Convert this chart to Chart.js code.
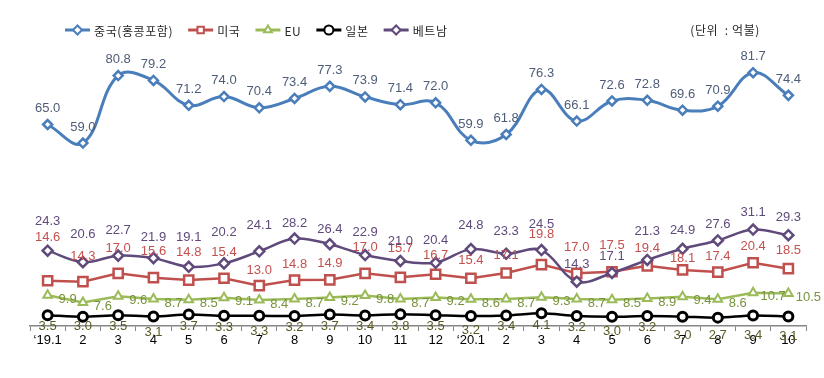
<!DOCTYPE html>
<html><head><meta charset="utf-8">
<script src="https://cdn.jsdelivr.net/npm/chart.js@4/dist/chart.umd.min.js"></script>
<style>html,body{margin:0;padding:0;background:#fff}#wrap{width:824px;height:378px;position:relative}</style>
</head><body><div id="wrap"><canvas id="c" width="824" height="378"></canvas></div>
<script>
// ---- data ----
const categories = ["\u201819.1","2","3","4","5","6","7","8","9","10","11","12","\u201820.1","2","3","4","5","6","7","8","9","10"];
const seriesNames = ["중국(홍콩포함)","미국","EU","일본","베트남"];
const china   = [65.0,59.0,80.8,79.2,71.2,74.0,70.4,73.4,77.3,73.9,71.4,72.0,59.9,61.8,76.3,66.1,72.6,72.8,69.6,70.9,81.7,74.4];
const usa     = [14.6,14.3,17.0,15.6,14.8,15.4,13.0,14.8,14.9,17.0,15.7,16.7,15.4,17.1,19.8,17.0,17.5,19.4,18.1,17.4,20.4,18.5];
const eu      = [9.9,7.6,9.6,8.7,8.5,9.1,8.4,8.7,9.2,9.8,8.7,9.2,8.6,8.7,9.3,8.7,8.5,8.9,9.4,8.6,10.7,10.5];
const japan   = [3.5,3.0,3.5,3.1,3.7,3.3,3.3,3.2,3.7,3.4,3.8,3.5,3.2,3.4,4.1,3.2,3.0,3.2,3.0,2.7,3.4,3.1];
const vietnam = [24.3,20.6,22.7,21.9,19.1,20.2,24.1,28.2,26.4,22.9,21.0,20.4,24.8,23.3,24.5,14.3,17.1,21.3,24.9,27.6,31.1,29.3];
const unitText = "(단위  : 억불)";

// ---- label placement (pixel offsets of value labels from their points) ----
const usLabelDy = [-43,-25,-25,-26,-28,-26,-15,-16,-16,-26,-29,-19,-18,-18,-30,-26,-26,-17,-11,-16,-16,-18];
const vnLabelDy = [-29,-28,-25,-21,-29,-31,-26,-15,-15,-23,-19,-22,-24,-22,-26,-17,-17,-29,-18,-16,-17,-18];
const jpLabelDy = [11,10,11,16,12,12,16,11,12,11,12,11,14,11,12,11,15,11,19,18,20,20];

const NUM_FONT = "13px 'Liberation Sans', Arial, sans-serif";
const KR_FONT = "12px 'Noto Sans CJK KR', 'Liberation Sans', sans-serif";

const styles = [
  {color:'#4A7EBB', labelColor:'#4E5D77', point:'rectRot', r:4.5, bw:2.5, lw:3, tension:0.4, lab:{dx:0, dy:()=>-16, align:'center'}},
  {color:'#C0504D', labelColor:'#C4514E', point:'rect', r:6.5, bw:2.5, lw:2.5, tension:0, lab:{dx:0, dy:i=>usLabelDy[i], align:'center'}},
  {color:'#9BBB59', labelColor:'#77933C', point:'triangle', r:5, bw:2, lw:2.5, tension:0, lab:{dx:20, dy:()=>4, align:'center'}},
  {color:'#000000', labelColor:'#5A5A26', point:'circle', r:4.5, bw:3, lw:2.5, tension:0.3, lab:{dx:0, dy:i=>jpLabelDy[i], align:'center'}},
  {color:'#604A7B', labelColor:'#604A7B', point:'rectRot', r:5, bw:2.5, lw:2.5, tension:0.35, lab:{dx:0, dy:i=>vnLabelDy[i], align:'center'}}
];
const values = [china, usa, eu, japan, vietnam];

const datasets = values.map((v, k) => ({
  label: seriesNames[k],
  data: v,
  borderColor: styles[k].color,
  backgroundColor: '#ffffff',
  borderWidth: styles[k].lw,
  pointStyle: styles[k].point,
  pointRadius: styles[k].r,
  pointBorderWidth: styles[k].bw,
  pointBorderColor: styles[k].color,
  pointBackgroundColor: '#ffffff',
  tension: styles[k].tension,
  order: [1,3,4,5,2][k],
  clip: false
}));

const labelPlugin = {
  id: 'valueLabels',
  afterDatasetsDraw(chart) {
    const ctx = chart.ctx;
    ctx.save();
    ctx.font = NUM_FONT;
    ctx.textBaseline = 'middle';
    chart.data.datasets.forEach((ds, k) => {
      const meta = chart.getDatasetMeta(k);
      const st = styles[k];
      ctx.fillStyle = st.labelColor;
      ctx.textAlign = st.lab.align;
      meta.data.forEach((el, i) => {
        ctx.fillText(ds.data[i].toFixed(1), el.x + st.lab.dx, el.y + st.lab.dy(i));
      });
    });
    ctx.restore();
  }
};

const legendPlugin = {
  id: 'customLegend',
  afterDraw(chart) {
    const ctx = chart.ctx;
    ctx.save();
    let x = 65; const y = 30;
    ctx.font = KR_FONT;
    ctx.textBaseline = 'middle';
    ctx.textAlign = 'left';
    seriesNames.forEach((name, k) => {
      const st = styles[k];
      ctx.strokeStyle = st.color; ctx.lineWidth = 3;
      ctx.beginPath(); ctx.moveTo(x, y); ctx.lineTo(x + 25, y); ctx.stroke();
      ctx.fillStyle = '#ffffff';
      ctx.strokeStyle = st.color; ctx.lineWidth = 2;
      Chart.helpers.drawPoint(ctx, {pointStyle: st.point, radius: Math.min(st.r, 4.5), rotation: 0, borderWidth: 2}, x + 12.5, y);
      ctx.fillStyle = '#262626';
      ctx.letterSpacing = '0.6px';
      ctx.fillText(name, x + 29, y + 1);
      x += 29 + ctx.measureText(name).width + 15;
    });
    ctx.fillStyle = '#262626';
    ctx.textAlign = 'right';
    ctx.fillText(unitText, 760, 30);
    ctx.restore();
  }
};

Chart.defaults.font.family = "'Liberation Sans', Arial, sans-serif";

new Chart(document.getElementById('c'), {
  type: 'line',
  data: { labels: categories, datasets },
  options: {
    responsive: false,
    animation: false,
    devicePixelRatio: 1,
    layout: { padding: { left: 30, right: 18, top: 47, bottom: 0 } },
    plugins: { legend: { display: false }, tooltip: { enabled: false } },
    scales: {
      y: { display: false, min: 0, max: 90 },
      x: {
        offset: true,
        grid: { offset: true, drawOnChartArea: false, drawTicks: true, tickLength: 5, color: '#868686', lineWidth: 1 },
        border: { display: true, color: '#868686', width: 1.5 },
        ticks: { color: '#000000', font: { size: 13 }, padding: 2, maxRotation: 0, autoSkip: false },
        afterFit(scale) { scale.height = 52; }
      }
    }
  },
  plugins: [labelPlugin, legendPlugin]
});
</script>
</body></html>
